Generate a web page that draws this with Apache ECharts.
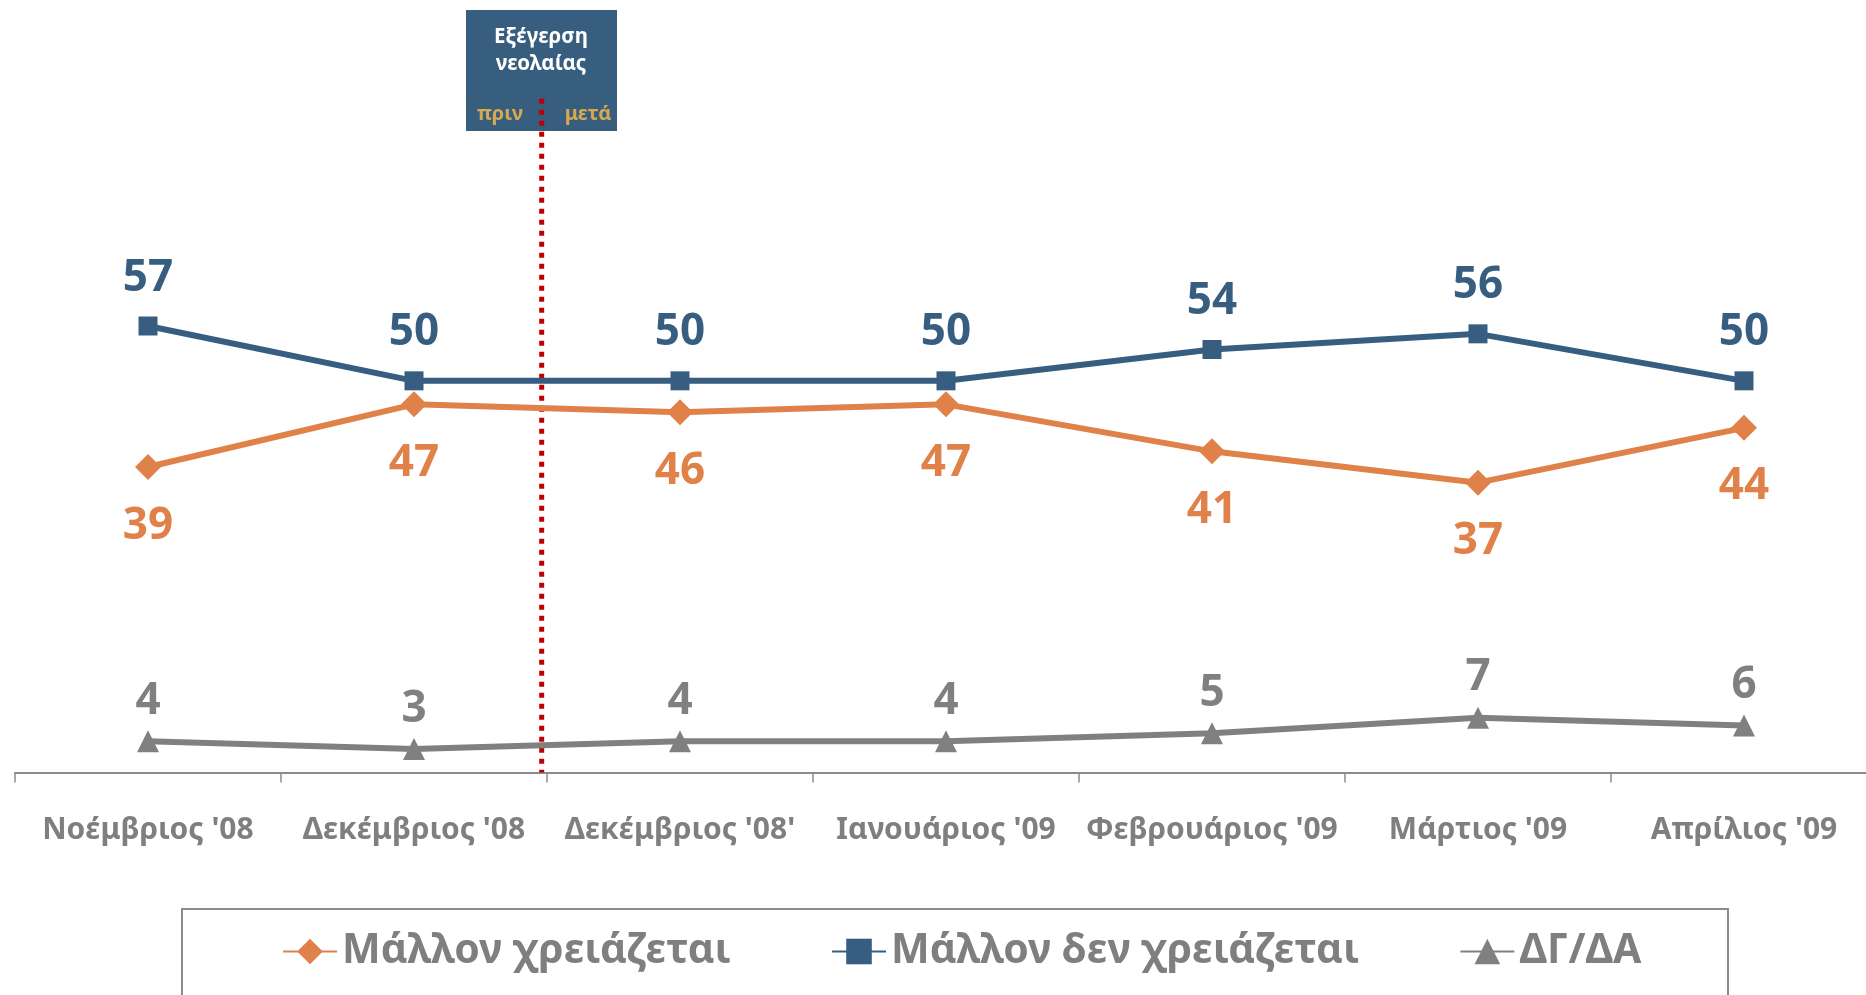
<!DOCTYPE html>
<html>
<head>
<meta charset="utf-8">
<script src="https://cdn.jsdelivr.net/npm/echarts@6/dist/echarts.min.js"></script>
<style>
html,body{margin:0;padding:0;background:#fff;}
#chart{width:1866px;height:995px;}
</style>
</head>
<body>
<div id="chart"></div>
<script>
const categories = ["Νοέμβριος '08", "Δεκέμβριος '08", "Δεκέμβριος '08'", "Ιανουάριος '09", "Φεβρουάριος '09", "Μάρτιος '09", "Απρίλιος '09"];
const needed = [39, 47, 46, 47, 41, 37, 44];
const notNeeded = [57, 50, 50, 50, 54, 56, 50];
const dkna = [4, 3, 4, 4, 5, 7, 6];
const seriesNames = ["Μάλλον χρειάζεται", "Μάλλον δεν χρειάζεται", "ΔΓ/ΔΑ"];
const eventPosition = 1.48; // between Dec '08 and Dec '08'
const eventLine = [[eventPosition, 86], [eventPosition, 0]];

const ORANGE = '#E0814A', BLUE = '#375E80', GRAY = '#808080';
const FONT = 'Noto Sans';

const chart = echarts.init(document.getElementById('chart'));
function labelCfg(color, dy) {
  return {
    show: true, position: 'inside', offset: [0, dy], formatter: '{c}',
    color: color, fontFamily: FONT, fontWeight: 'bold', fontSize: 44
  };
}
chart.setOption({
  animation: false,
  grid: { left: 15, top: 67.5, width: 1862, height: 705, containLabel: false, outerBoundsMode: 'none' },
  xAxis: [{
    type: 'category', data: categories, boundaryGap: true,
    axisLine: { lineStyle: { color: '#8C8C8C', width: 2 } },
    axisTick: { show: true, length: 10, lineStyle: { color: '#8C8C8C', width: 1.5 } },
    axisLabel: { margin: 43, color: '#7F7F7F', fontFamily: FONT, fontWeight: 'bold', fontSize: 30, interval: 0, hideOverlap: false },
    splitLine: { show: false }
  }, {
    type: 'value', min: -0.5, max: 6.5, show: false, gridIndex: 0
  }],
  yAxis: { type: 'value', min: 0, max: 90, show: false, splitLine: { show: false } },
  legend: {
    data: seriesNames, left: 282, top: 931, padding: 0, itemGap: 100,
    itemWidth: 54, itemHeight: 32,
    textStyle: { color: '#7F7F7F', fontFamily: FONT, fontWeight: 'bold', fontSize: 41 }
  },
  graphic: [
    { type: 'rect', z: 0, shape: { x: 182, y: 909, width: 1546, height: 130 }, style: { fill: 'none', stroke: '#8C8C8C', lineWidth: 2 } },
    { type: 'rect', z: 0, shape: { x: 466, y: 10, width: 151, height: 121 }, style: { fill: '#375E7F' } },
    { type: 'text', z: 1, x: 541, y: 37, style: { text: 'Εξέγερση', fill: '#FFFFFF', font: 'bold 20.5px "Noto Sans"', align: 'center', verticalAlign: 'middle' } },
    { type: 'text', z: 1, x: 541, y: 64, style: { text: 'νεολαίας', fill: '#FFFFFF', font: 'bold 20.5px "Noto Sans"', align: 'center', verticalAlign: 'middle' } },
    { type: 'text', z: 1, x: 500, y: 114, style: { text: 'πριν', fill: '#D6A84F', font: 'bold 20px "Noto Sans"', align: 'center', verticalAlign: 'middle' } },
    { type: 'text', z: 1, x: 588, y: 114, style: { text: 'μετά', fill: '#D6A84F', font: 'bold 20px "Noto Sans"', align: 'center', verticalAlign: 'middle' } }
  ],
  series: [
    {
      name: 'event', type: 'line', xAxisIndex: 1, data: eventLine, symbol: 'none', z: 5,
      lineStyle: { color: '#C00000', width: 5, type: [5, 6] }, silent: true
    },
    {
      name: seriesNames[0], type: 'line', data: needed, z: 10,
      symbol: 'diamond', symbolSize: 26, color: ORANGE,
      lineStyle: { color: ORANGE, width: 6 }, itemStyle: { color: ORANGE },
      label: labelCfg(ORANGE, 59)
    },
    {
      name: seriesNames[1], type: 'line', data: notNeeded, z: 10,
      symbol: 'rect', symbolSize: 19, color: BLUE,
      lineStyle: { color: BLUE, width: 6 }, itemStyle: { color: BLUE },
      label: labelCfg(BLUE, -48)
    },
    {
      name: seriesNames[2], type: 'line', data: dkna, z: 10,
      symbol: 'triangle', symbolSize: [22, 22], color: GRAY,
      lineStyle: { color: GRAY, width: 6 }, itemStyle: { color: GRAY },
      label: labelCfg(GRAY, -40)
    }
  ]
});
</script>
</body>
</html>
